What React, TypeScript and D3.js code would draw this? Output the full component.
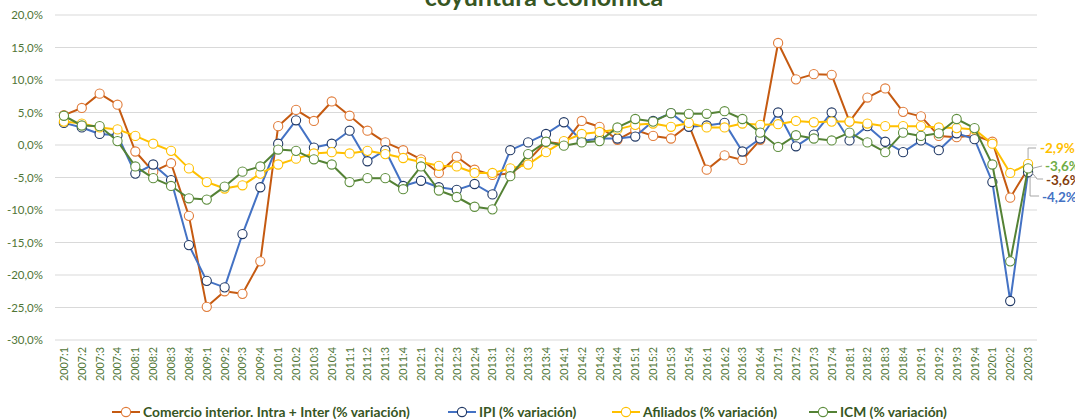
import React from "react";
import * as d3 from "d3";

const categories = [
  "2007:1","2007:2","2007:3","2007:4","2008:1","2008:2","2008:3","2008:4",
  "2009:1","2009:2","2009:3","2009:4","2010:1","2010:2","2010:3","2010:4",
  "2011:1","2011:2","2011:3","2011:4","2012:1","2012:2","2012:3","2012:4",
  "2013:1","2013:2","2013:3","2013:4","2014:1","2014:2","2014:3","2014:4",
  "2015:1","2015:2","2015:3","2015:4","2016:1","2016:2","2016:3","2016:4",
  "2017:1","2017:2","2017:3","2017:4","2018:1","2018:2","2018:3","2018:4",
  "2019:1","2019:2","2019:3","2019:4","2020:1","2020:2","2020:3",
];

const comercio = [
  4.6, 5.7, 7.9, 6.2, -1.0, -4.1, -2.8, -10.9,
  -24.9, -22.5, -22.9, -17.9, 2.9, 5.4, 3.7, 6.7,
  4.5, 2.2, 0.4, -0.8, -2.2, -4.3, -1.8, -3.8,
  -4.6, -4.4, -2.4, 0.5, 0.1, 3.7, 2.8, 0.8,
  2.3, 1.4, 1.0, 3.1, -3.8, -1.6, -2.3, 0.8,
  15.7, 10.1, 10.9, 10.8, 3.6, 7.3, 8.7, 5.1,
  4.4, 1.4, 1.2, 1.5, 0.5, -8.1, -3.6,
];

const ipi = [
  3.4, 2.7, 1.7, 1.5, -4.4, -3.0, -5.4, -15.4,
  -20.9, -21.9, -13.7, -6.5, 0.2, 3.8, -0.4, 0.2,
  2.2, -2.5, -0.8, -6.3, -5.5, -6.5, -6.9, -6.0,
  -7.6, -0.8, 0.4, 1.7, 3.5, 0.6, 1.0, 1.0,
  1.3, 3.7, 4.9, 2.8, 3.0, 3.4, -1.0, 1.0,
  5.0, -0.2, 1.6, 5.0, 0.7, 2.9, 0.5, -1.1,
  0.7, -0.8, 1.8, 0.9, -5.7, -24.0, -4.2,
];

const afiliados = [
  3.6, 3.3, 2.7, 2.4, 1.4, 0.2, -0.9, -3.6,
  -5.7, -6.7, -6.2, -4.4, -3.0, -2.1, -1.3, -1.1,
  -1.3, -0.9, -1.4, -2.0, -2.6, -3.2, -3.3, -4.3,
  -4.3, -3.6, -3.0, -1.1, 0.6, 1.7, 2.0, 2.4,
  3.1, 3.3, 2.8, 3.4, 2.7, 2.7, 3.3, 3.1,
  3.2, 3.7, 3.5, 3.6, 3.6, 3.3, 2.9, 2.9,
  2.9, 2.7, 2.6, 2.4, 0.2, -4.3, -2.9,
];

const icm = [
  4.5, 3.0, 2.9, 0.6, -3.3, -5.1, -6.3, -8.2,
  -8.4, -6.4, -4.1, -3.3, -0.7, -0.9, -2.2, -3.0,
  -5.7, -5.1, -5.1, -6.8, -3.3, -7.0, -8.0, -9.5,
  -9.9, -4.8, -1.4, 0.5, -0.1, 0.4, 0.6, 2.7,
  4.0, 3.6, 4.9, 4.8, 4.8, 5.2, 4.0, 1.9,
  -0.3, 1.5, 1.0, 0.7, 1.9, 0.4, -1.1, 1.9,
  1.4, 1.8, 4.0, 2.6, -3.0, -17.9, -3.6,
];

const seriesNames = [
  "Comercio interior. Intra + Inter (% variación)",
  "IPI (% variación)",
  "Afiliados (% variación)",
  "ICM (% variación)",
];

const yTicks = [20, 15, 10, 5, 0, -5, -10, -15, -20, -25, -30];

const lastLabels = ["-3,6%", "-4,2%", "-2,9%", "-3,6%"];

const series = [
  { name: seriesNames[0], values: comercio, line: "#C55A11", marker: "#E07B39", label: lastLabels[0], labelColor: "#843C0C" },
  { name: seriesNames[1], values: ipi, line: "#4472C4", marker: "#203864", label: lastLabels[1], labelColor: "#4472C4" },
  { name: seriesNames[2], values: afiliados, line: "#FFC000", marker: "#FFC000", label: lastLabels[2], labelColor: "#FFC000" },
  { name: seriesNames[3], values: icm, line: "#548235", marker: "#5E8E3E", label: lastLabels[3], labelColor: "#70AD47" },
];

const W = 1075;
const H = 420;
const FONT = "Lato, 'Open Sans', sans-serif";
const AXIS_COLOR = "#4F7536";

export default function App() {
  const x = d3.scaleBand<string>().domain(categories).range([55, 1037]).paddingInner(0).paddingOuter(0);
  const y = d3.scaleLinear().domain([-30, 20]).range([340, 15]);
  const cx = (c: string) => (x(c) as number) + x.bandwidth() / 2;

  const line = d3
    .line<number>()
    .x((_, i) => cx(categories[i]))
    .y((d) => y(d));

  const lastCat = categories[categories.length - 1];
  const lx = cx(lastCat);

  const labelY = [180, 197, 148, 166];
  const labelX = [1046, 1042, 1040, 1045];

  const legendX = [112, 448, 612, 809];

  return (
    <svg
      width={W}
      height={H}
      style={{ position: "absolute", left: 0, top: 0, background: "#fff" }}
      fontFamily={FONT}
    >
      <rect x={0} y={0} width={W} height={H} fill="#fff" />
      <text x={544} y={6} textAnchor="middle" fontSize={25} fontWeight={700} fill="#375623">
        coyuntura económica
      </text>

      {yTicks.map((t) => (
        <line key={t} x1={55} x2={1037} y1={y(t)} y2={y(t)} stroke="#D9D9D9" strokeWidth={1.2} />
      ))}
      {yTicks.map((t) => (
        <text key={"yl" + t} x={43} y={y(t) + 4} textAnchor="end" fontSize={11.5} fill={AXIS_COLOR}>
          {d3.format(".1f")(t).replace(".", ",").replace("−", "-") + "%"}
        </text>
      ))}

      {categories.map((c) => (
        <text
          key={"xl" + c}
          transform={`translate(${cx(c) + 4},347) rotate(-90)`}
          textAnchor="end"
          fontSize={10.8}
          fill={AXIS_COLOR}
        >
          {c}
        </text>
      ))}

      {series.map((s) => (
        <g key={s.name}>
          <path d={line(s.values) || ""} fill="none" stroke={s.line} strokeWidth={2} strokeLinejoin="round" />
          {s.values.map((v, i) => (
            <circle key={i} cx={cx(categories[i])} cy={y(v)} r={4.6} fill="#fff" stroke={s.marker} strokeWidth={1.1} />
          ))}
        </g>
      ))}

      <g stroke="#A6A6A6" strokeWidth={1} fill="none">
        <polyline points={`${lx},${y(afiliados[54]) - 5} ${lx},148 ${lx + 8},148`} />
        <polyline points={`${lx + 4},${y(icm[54])} ${lx + 14},166`} />
        <polyline points={`${lx + 3},${y(comercio[54]) + 3} ${lx + 9},179 ${lx + 15},179`} />
        <polyline points={`${lx + 2},${y(ipi[54]) + 4} ${lx + 2},196 ${lx + 11},196`} />
      </g>

      {series.map((s, i) => (
        <text key={"lab" + i} x={labelX[i]} y={labelY[i] + 5} fontSize={13.5} fontWeight={700} fill={s.labelColor}>
          {s.label}
        </text>
      ))}

      {series.map((s, i) => (
        <g key={"lg" + i} transform={`translate(${legendX[i]},412)`}>
          <line x1={0} x2={28} y1={0} y2={0} stroke={s.line} strokeWidth={2} />
          <circle cx={14} cy={0} r={4.6} fill="#fff" stroke={s.marker} strokeWidth={1.1} />
          <text x={31} y={5} fontSize={13.8} fontWeight={700} fill="#375623">
            {s.name}
          </text>
        </g>
      ))}
    </svg>
  );
}
